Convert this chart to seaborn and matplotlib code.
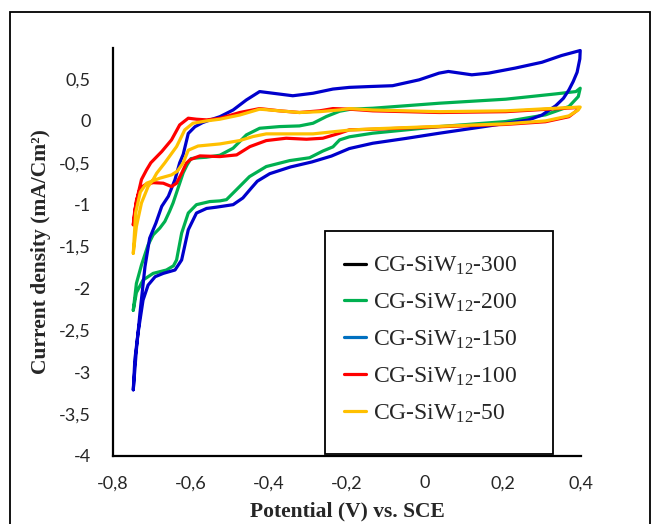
import matplotlib
matplotlib.use("Agg")
import matplotlib.pyplot as plt
import pandas as pd
import seaborn as sns
from matplotlib.lines import Line2D
from matplotlib.patches import Rectangle
from matplotlib.ticker import FuncFormatter, MultipleLocator

# CV loops: anodic branch left -> right, then back along the cathodic one
pot_150 = [-0.748, -0.740, -0.731, -0.718, -0.706, -0.690, -0.675, -0.658, -0.641, -0.629,
           -0.620, -0.607, -0.590, -0.570, -0.552, -0.526, -0.492, -0.458, -0.424, -0.390,
           -0.339, -0.287, -0.236, -0.194, -0.142, -0.083, -0.015, 0.036, 0.060, 0.120,
           0.163, 0.231, 0.300, 0.350, 0.398,
           0.397, 0.390, 0.380, 0.369, 0.355, 0.335, 0.300, 0.265, 0.207, 0.120,
           0.037, -0.050, -0.134, -0.194, -0.240, -0.290, -0.345, -0.398, -0.430, -0.445,
           -0.467, -0.492, -0.535, -0.560, -0.586, -0.607, -0.624, -0.641, -0.671, -0.692,
           -0.710, -0.723, -0.736, -0.744, -0.748]
cur_150 = [-3.21, -2.73, -2.30, -1.74, -1.40, -1.22, -1.02, -0.90, -0.70, -0.50,
           -0.40, -0.15, -0.07, -0.02, 0.01, 0.05, 0.13, 0.25, 0.35, 0.33,
           0.30, 0.33, 0.38, 0.40, 0.41, 0.42, 0.49, 0.57, 0.59, 0.55,
           0.57, 0.63, 0.70, 0.78, 0.84,
           0.74, 0.58, 0.47, 0.37, 0.27, 0.18, 0.07, 0.01, -0.03, -0.09,
           -0.147, -0.21, -0.267, -0.33, -0.42, -0.49, -0.55, -0.63, -0.72, -0.80,
           -0.92, -1.00, -1.03, -1.045, -1.10, -1.30, -1.66, -1.78, -1.82, -1.86,
           -1.96, -2.14, -2.54, -2.85, -3.21]

pot_200 = [-0.748, -0.740, -0.727, -0.710, -0.697, -0.680, -0.667, -0.655, -0.646, -0.633,
           -0.620, -0.610, -0.600, -0.580, -0.561, -0.526, -0.492, -0.458, -0.424, -0.373,
           -0.322, -0.287, -0.253, -0.219, -0.190, -0.134, 0.037, 0.207, 0.335, 0.387, 0.398,
           0.393, 0.369, 0.309, 0.207, 0.037, -0.134, -0.194, -0.219, -0.236, -0.262,
           -0.296, -0.347, -0.407, -0.450, -0.484, -0.509, -0.526, -0.552, -0.586, -0.607,
           -0.624, -0.637, -0.645, -0.663, -0.697, -0.723, -0.740, -0.748]
cur_200 = [-2.26, -1.94, -1.72, -1.48, -1.36, -1.28, -1.20, -1.08, -0.98, -0.80,
           -0.62, -0.525, -0.45, -0.44, -0.434, -0.41, -0.326, -0.167, -0.088, -0.068,
           -0.06, -0.028, 0.052, 0.115, 0.14, 0.151, 0.211, 0.259, 0.322, 0.35, 0.39,
           0.29, 0.171, 0.072, -0.008, -0.068, -0.147, -0.19, -0.227, -0.31, -0.36,
           -0.44, -0.474, -0.545, -0.665, -0.824, -0.94, -0.955, -0.963, -1.0, -1.10,
           -1.34, -1.66, -1.73, -1.78, -1.82, -1.90, -2.05, -2.26]

pot_100 = [-0.748, -0.744, -0.735, -0.727, -0.714, -0.703, -0.675, -0.650, -0.629, -0.607,
           -0.586, -0.560, -0.526, -0.475, -0.424, -0.373, -0.322, -0.270, -0.236, -0.194,
           -0.134, 0.037, 0.207, 0.335, 0.395,
           0.390, 0.369, 0.309, 0.207, 0.037, -0.134, -0.194, -0.219, -0.262, -0.304,
           -0.356, -0.407, -0.449, -0.483, -0.526, -0.577, -0.590, -0.603, -0.612, -0.624,
           -0.637, -0.650, -0.671, -0.697, -0.718, -0.730, -0.740, -0.748]
cur_100 = [-1.24, -1.06, -0.86, -0.70, -0.585, -0.50, -0.366, -0.227, -0.048, 0.032,
           0.02, 0.012, 0.03, 0.10, 0.147, 0.12, 0.10, 0.12, 0.147, 0.14,
           0.12, 0.10, 0.11, 0.145, 0.16,
           0.125, 0.05, -0.01, -0.042, -0.07, -0.10, -0.107, -0.147, -0.207, -0.219,
           -0.207, -0.235, -0.307, -0.406, -0.426, -0.418, -0.44, -0.466, -0.505, -0.625,
           -0.744, -0.784, -0.744, -0.737, -0.764, -0.80, -0.95, -1.24]

pot_50 = [-0.748, -0.740, -0.727, -0.710, -0.697, -0.688, -0.667, -0.637, -0.616, -0.595,
          -0.560, -0.526, -0.475, -0.424, -0.373, -0.322, -0.270, -0.219, -0.194, -0.134,
          0.037, 0.207, 0.335, 0.398,
          0.393, 0.369, 0.309, 0.207, 0.037, -0.134, -0.194, -0.236, -0.287, -0.339,
          -0.407, -0.441, -0.475, -0.526, -0.582, -0.607, -0.620, -0.635, -0.650, -0.680,
          -0.714, -0.730, -0.742, -0.748]
cur_50 = [-1.58, -1.26, -0.98, -0.784, -0.70, -0.625, -0.50, -0.307, -0.107, -0.028,
          0.0, 0.02, 0.07, 0.14, 0.12, 0.10, 0.11, 0.131, 0.147, 0.13,
          0.11, 0.12, 0.151, 0.165,
          0.131, 0.06, 0.0, -0.035, -0.065, -0.095, -0.11, -0.13, -0.155, -0.155,
          -0.155, -0.187, -0.235, -0.275, -0.30, -0.35, -0.50, -0.60, -0.645, -0.684,
          -0.744, -0.85, -1.10, -1.58]

legend_labels = ["CG-SiW$_{12}$-300", "CG-SiW$_{12}$-200", "CG-SiW$_{12}$-150",
                 "CG-SiW$_{12}$-100", "CG-SiW$_{12}$-50"]
legend_colors = ["#000000", "#00B050", "#0070C0", "#FF0000", "#FFC000"]
curve_colors = {"200": "#00B050", "150": "#0000CC", "100": "#FF0000", "50": "#FFC000"}

frames = []
for name, e, j in [("200", pot_200, cur_200), ("150", pot_150, cur_150),
                   ("100", pot_100, cur_100), ("50", pot_50, cur_50)]:
    frames.append(pd.DataFrame({"E": e, "j": j, "sample": name}))
df = pd.concat(frames, ignore_index=True)

sns.set_style("white")
plt.rcParams["font.family"] = ["Lato", "DejaVu Sans"]
plt.rcParams["mathtext.fontset"] = "custom"
plt.rcParams["mathtext.rm"] = "Liberation Serif"
plt.rcParams["mathtext.default"] = "rm"
plt.rcParams["axes.unicode_minus"] = False

fig = plt.figure(figsize=(6.54, 5.24), dpi=100)
ax = fig.add_axes([113 / 654, 1 - 456 / 524, 468 / 654, 408 / 524])

sns.lineplot(data=df, x="E", y="j", hue="sample", hue_order=["200", "150", "100", "50"],
             palette=curve_colors, sort=False, estimator=None, linewidth=2.3,
             legend=False, ax=ax)
for ln in ax.lines:
    ln.set_clip_on(False)
    ln.set_solid_joinstyle("round")

ax.set_xlim(-0.8, 0.4)
ax.set_ylim(-4, 0.87)
ax.xaxis.set_major_locator(MultipleLocator(0.2))
ax.yaxis.set_major_locator(MultipleLocator(0.5))
comma = FuncFormatter(lambda v, p: ("%g" % round(v, 2)).replace(".", ","))
ax.xaxis.set_major_formatter(comma)
ax.yaxis.set_major_formatter(comma)
ax.tick_params(direction="in", length=7, width=1.3, labelsize=13, color="black")
ax.tick_params(axis="y", pad=16)
ax.tick_params(axis="x", pad=14)
sns.despine(ax=ax)
for s in ["left", "bottom"]:
    ax.spines[s].set_color("black")
    ax.spines[s].set_linewidth(1.6)

ax.set_xlabel("Potential (V) vs. SCE", fontfamily="Liberation Serif", fontweight="bold",
              fontsize=15.5, labelpad=7)
ax.set_ylabel("Current density (mA/Cm²)", fontfamily="Liberation Serif", fontweight="bold",
              fontsize=15.5, labelpad=6)

# legend box
fig.add_artist(Rectangle((325 / 654, 1 - 454 / 524), 228 / 654, 223 / 524,
                         transform=fig.transFigure, facecolor="white",
                         edgecolor="black", linewidth=1.3, zorder=5))
handles = [Line2D([], [], color=c, linewidth=2.3) for c in legend_colors]
leg = fig.legend(handles, legend_labels, loc="upper left",
                 bbox_to_anchor=(332 / 654, 1 - 243 / 524), frameon=False,
                 prop={"family": "Liberation Serif", "size": 17},
                 handlelength=0.95, handletextpad=0.3, labelspacing=0.62, borderpad=0)
leg.set_zorder(6)

# outer frame of the picture
fig.add_artist(Rectangle((10 / 654, -0.05), 640 / 654, 1.05 - 12 / 524,
                         transform=fig.transFigure, fill=False,
                         edgecolor="black", linewidth=1.3))

fig.savefig("out.png", dpi=100)
